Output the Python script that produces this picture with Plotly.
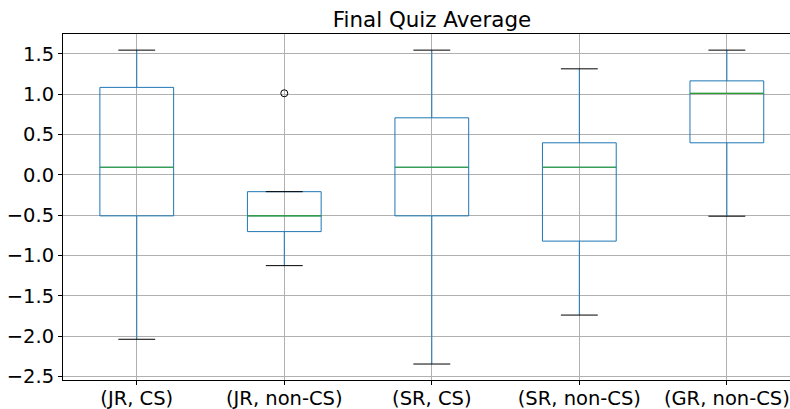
import plotly.graph_objects as go

# Group labels and box statistics for the final quiz average
groups = ["(JR, CS)", "(JR, non-CS)", "(SR, CS)", "(SR, non-CS)", "(GR, non-CS)"]
lower_whisker = [-2.04, -1.127, -2.347, -1.74, -0.514]
q1 = [-0.51, -0.705, -0.51, -0.823, 0.396]
median = [0.093, -0.51, 0.093, 0.093, 1.009]
q3 = [1.083, -0.21, 0.706, 0.396, 1.164]
upper_whisker = [1.545, -0.21, 1.545, 1.313, 1.545]
outlier_group = [2]
outlier_value = [1.01]

y_ticks = [-2.5, -2.0, -1.5, -1.0, -0.5, 0.0, 0.5, 1.0, 1.5]
y_ticktext = [f"{v:.1f}".replace("-", "\u2212") for v in y_ticks]

positions = list(range(1, len(groups) + 1))
BLUE = "#1f77b4"
GREEN = "#2ca02c"
FONT = "DejaVu Sans"

fig = go.Figure()

fig.add_trace(go.Box(
    x=positions, q1=q1, median=median, q3=q3,
    lowerfence=lower_whisker, upperfence=upper_whisker,
    width=0.5, whiskerwidth=0, boxpoints=False,
    fillcolor="rgba(0,0,0,0)", line=dict(color=BLUE, width=1),
    showlegend=False, hoverinfo="skip",
))


def segments(values, half):
    xs, ys = [], []
    for p, v in zip(positions, values):
        xs += [p - half, p + half, None]
        ys += [v, v, None]
    return xs, ys


mx, my = segments(median, 0.25)
fig.add_trace(go.Scatter(x=mx, y=my, mode="lines",
                         line=dict(color=GREEN, width=1.2),
                         showlegend=False, hoverinfo="skip"))

for vals in (lower_whisker, upper_whisker):
    cx, cy = segments(vals, 0.125)
    fig.add_trace(go.Scatter(x=cx, y=cy, mode="lines",
                             line=dict(color="black", width=1),
                             showlegend=False, hoverinfo="skip"))

fig.add_trace(go.Scatter(
    x=outlier_group, y=outlier_value, mode="markers",
    marker=dict(symbol="circle-open", size=7, color="black",
                line=dict(width=1, color="black")),
    showlegend=False, hoverinfo="skip",
))

fig.update_layout(
    width=790, height=409,
    margin=dict(l=63, r=0, t=34, b=29),
    paper_bgcolor="white", plot_bgcolor="white",
    font=dict(family=FONT, size=19.5, color="black"),
    title=dict(text="Final Quiz Average", x=432 / 790, xref="container",
               xanchor="center", y=1 - 20 / 409, yanchor="middle",
               font=dict(family=FONT, size=21.4, color="black")),
)

fig.update_xaxes(
    range=[0.5, 5.428], tickvals=positions, ticktext=groups,
    showgrid=True, gridcolor="#b0b0b0", gridwidth=0.8,
    ticks="outside", ticklen=4, tickcolor="black",
    showline=True, linecolor="black", linewidth=1, mirror=True,
    zeroline=False, tickfont=dict(size=19.5), automargin=False,
    ticklabelstandoff=-3,
)
fig.update_yaxes(
    range=[-2.545, 1.745], tickvals=y_ticks, ticktext=y_ticktext,
    showgrid=True, gridcolor="#b0b0b0", gridwidth=0.8,
    ticks="outside", ticklen=4, tickcolor="black",
    showline=True, linecolor="black", linewidth=1, mirror=False,
    zeroline=False, tickfont=dict(size=19.5), automargin=False,
)

fig.write_html("out.html")
